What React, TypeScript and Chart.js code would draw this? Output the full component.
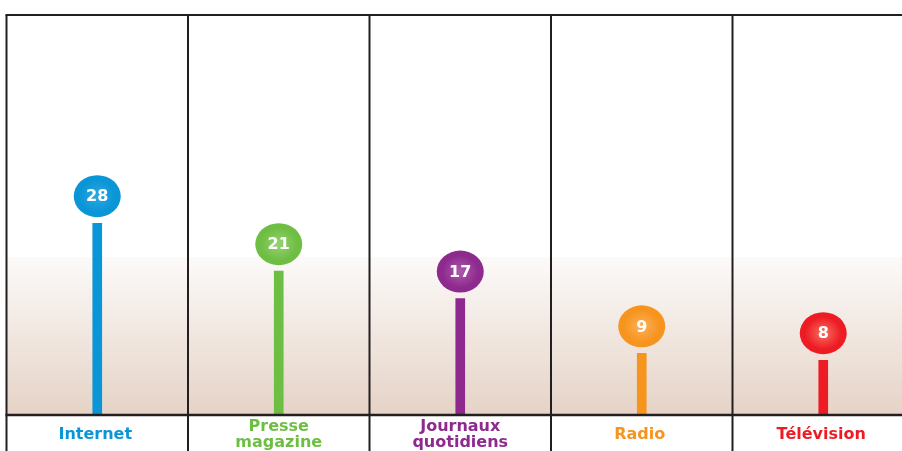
import React, { useEffect, useRef } from "react";
import { Chart, registerables } from "chart.js";

Chart.register(...registerables);

const categories: string[][] = [["Internet"], ["Presse", "magazine"], ["Journaux", "quotidiens"], ["Radio"], ["Télévision"]];
const values: number[] = [28, 21, 17, 9, 8];
const colors: string[] = ["#0a95d6", "#6fbe44", "#8e2a8e", "#f7941e", "#ed1c24"];
const lightColors: string[] = ["#2aa6e0", "#92d06e", "#a955a8", "#fbad55", "#f5675a"];
const yMax = 58.4;

const decoPlugin = {
  id: "deco",
  beforeDatasetsDraw(chart: any) {
    const { ctx, chartArea } = chart;
    const { left, right, top, bottom } = chartArea;
    ctx.save();
    ctx.fillStyle = "#ffffff";
    ctx.fillRect(left, top, right - left, bottom - top);
    const g = ctx.createLinearGradient(0, 257, 0, bottom);
    g.addColorStop(0, "#fcfaf9");
    g.addColorStop(1, "#e5d3c6");
    ctx.fillStyle = g;
    ctx.fillRect(left, 257, right - left, bottom - 257);
    ctx.restore();
  },
  afterDatasetsDraw(chart: any) {
    const { ctx, chartArea } = chart;
    const { left, right, top, bottom } = chartArea;
    const xs = chart.scales.x;
    const n = categories.length;
    const w = (right - left) / n;
    ctx.save();
    const meta = chart.getDatasetMeta(0);
    meta.data.forEach((bar: any, i: number) => {
      const cx = bar.x;
      const cy = bar.y - 27;
      const rx = 23.5;
      const ry = 21;
      ctx.save();
      ctx.translate(cx, cy);
      ctx.scale(1, ry / rx);
      const rg = ctx.createRadialGradient(0, 0, 2, 0, 0, rx);
      rg.addColorStop(0, lightColors[i]);
      rg.addColorStop(0.75, colors[i]);
      rg.addColorStop(1, colors[i]);
      ctx.fillStyle = rg;
      ctx.beginPath();
      ctx.arc(0, 0, rx, 0, Math.PI * 2);
      ctx.fill();
      ctx.restore();
      ctx.fillStyle = "#ffffff";
      ctx.font = "bold 16px 'DejaVu Sans'";
      ctx.textAlign = "center";
      ctx.textBaseline = "middle";
      ctx.fillText(String(values[i]), cx, cy + 1);
    });
    ctx.strokeStyle = "#231f20";
    ctx.lineWidth = 2;
    for (let k = 0; k <= n; k++) {
      const x = left + k * w;
      ctx.beginPath();
      ctx.moveTo(x, top);
      ctx.lineTo(x, chart.height);
      ctx.stroke();
    }
    ctx.beginPath();
    ctx.moveTo(left - 1, top);
    ctx.lineTo(right, top);
    ctx.stroke();
    ctx.lineWidth = 2.5;
    ctx.beginPath();
    ctx.moveTo(left - 1, bottom);
    ctx.lineTo(right, bottom);
    ctx.stroke();
    ctx.font = "bold 16px 'DejaVu Sans'";
    ctx.textAlign = "center";
    ctx.textBaseline = "middle";
    categories.forEach((lines, i) => {
      const x = xs.getPixelForValue(i);
      ctx.fillStyle = colors[i];
      if (lines.length === 1) {
        ctx.fillText(lines[0], x - 2, bottom + 20);
      } else {
        ctx.fillText(lines[0], x, bottom + 12);
        ctx.fillText(lines[1], x, bottom + 28);
      }
    });
    ctx.restore();
  },
};

export default function App() {
  const ref = useRef<HTMLCanvasElement | null>(null);
  useEffect(() => {
    if (!ref.current) return;
    const chart = new Chart(ref.current, {
      type: "bar",
      data: {
        labels: categories.map((c) => c.join(" ")),
        datasets: [
          {
            data: values,
            backgroundColor: colors,
            barThickness: 9,
            borderWidth: 0,
          },
        ],
      },
      options: {
        responsive: true,
        maintainAspectRatio: false,
        animation: false,
        layout: { padding: { left: 6.5, top: 15, right: 0, bottom: 36 } },
        plugins: { legend: { display: false }, tooltip: { enabled: false } },
        scales: {
          x: { display: false },
          y: { display: false, min: 0, max: yMax },
        },
      },
      plugins: [decoPlugin],
    });
    return () => chart.destroy();
  }, []);
  return (
    <div style={{ position: "fixed", left: 0, top: 0, width: 902, height: 451, overflow: "hidden", background: "#fff" }}>
      <div style={{ position: "relative", width: 914, height: 451 }}>
        <canvas ref={ref} />
      </div>
    </div>
  );
}
